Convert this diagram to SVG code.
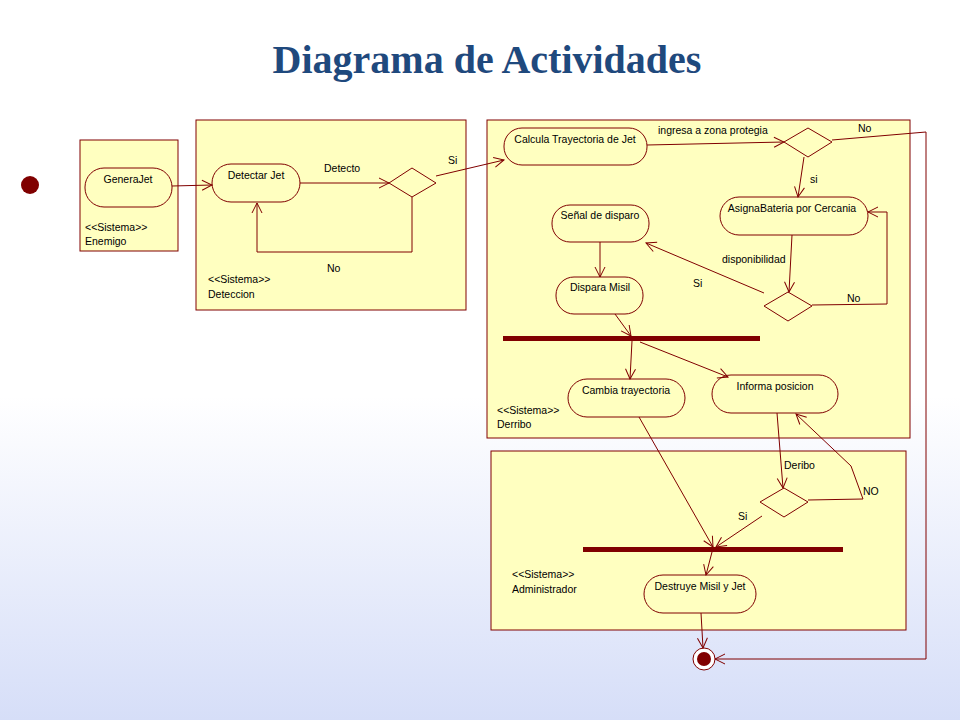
<svg xmlns="http://www.w3.org/2000/svg" width="960" height="720" viewBox="0 0 960 720">
<defs>
<linearGradient id="bg" x1="0" y1="0" x2="0" y2="1">
<stop offset="0" stop-color="#ffffff"/><stop offset="0.55" stop-color="#ffffff"/><stop offset="1" stop-color="#d6def8"/>
</linearGradient>
<marker id="a" viewBox="0 0 12 12" refX="11" refY="6" markerWidth="12" markerHeight="12" markerUnits="userSpaceOnUse" orient="auto">
<path d="M1,1 L11,6 L1,11" fill="none" stroke="#800000" stroke-width="1"/>
</marker>
<style>
.c{fill:#ffffc0;stroke:#800000;stroke-width:1}
.n{fill:#ffffc0;stroke:#800000;stroke-width:1}
.t{font-family:"Liberation Sans",Arial,sans-serif;font-size:10.5px;fill:#000}
.m{text-anchor:middle}
.l{fill:none;stroke:#800000;stroke-width:1;marker-end:url(#a)}
.p{fill:none;stroke:#800000;stroke-width:1}
.f{fill:#800000}
</style>
</defs>
<rect width="960" height="720" fill="url(#bg)"/>
<text x="487" y="73" text-anchor="middle" font-family="Liberation Serif,serif" font-weight="bold" font-size="40" fill="#1f497d">Diagrama de Actividades</text>

<g id="enemigo"><rect class="c" x="80" y="140" width="98" height="111"/><text class="t" x="85" y="231">&lt;&lt;Sistema&gt;&gt;</text><text class="t" x="85" y="245">Enemigo</text></g>
<g id="deteccion"><rect class="c" x="196" y="120" width="270" height="190"/><text class="t" x="208" y="283">&lt;&lt;Sistema&gt;&gt;</text><text class="t" x="208" y="298">Deteccion</text></g>
<g id="derribo"><rect class="c" x="487" y="120" width="423" height="318"/><text class="t" x="497" y="414">&lt;&lt;Sistema&gt;&gt;</text><text class="t" x="497" y="428">Derribo</text></g>
<g id="administrador"><rect class="c" x="491" y="451" width="415" height="179"/><text class="t" x="512" y="578">&lt;&lt;Sistema&gt;&gt;</text><text class="t" x="512" y="593">Administrador</text></g>

<g id="inicio"><circle cx="30" cy="185" r="9" class="f"/></g>
<g id="generajet"><rect class="n" x="85" y="168" width="87" height="39" rx="19"/><text class="t m" x="128" y="183">GeneraJet</text></g>
<g id="detectar"><rect class="n" x="212" y="164" width="88" height="38" rx="19"/><text class="t m" x="256" y="179">Detectar Jet</text></g>
<g id="d1"><polygon class="n" points="389,183 412,168 436,183 412,197"/></g>
<g id="calcula"><rect class="n" x="504" y="128" width="143" height="37" rx="18"/><text class="t m" x="575" y="143">Calcula Trayectoria de Jet</text></g>
<g id="d2"><polygon class="n" points="784,142 808,128 832,142 808,157"/></g>
<g id="asigna"><rect class="n" x="720" y="197" width="148" height="38" rx="19"/><text class="t m" x="792" y="212">AsignaBateria por Cercania</text></g>
<g id="senal"><rect class="n" x="552" y="205" width="97" height="37" rx="18"/><text class="t m" x="600" y="219">Señal de disparo</text></g>
<g id="dispara"><rect class="n" x="556" y="277" width="87" height="37" rx="18"/><text class="t m" x="600" y="291">Dispara Misil</text></g>
<g id="d3"><polygon class="n" points="764,306 788,292 812,306 788,321"/></g>
<g id="fork1"><rect class="f" x="503" y="336" width="257" height="5"/></g>
<g id="cambia"><rect class="n" x="568" y="379" width="117" height="38" rx="19"/><text class="t m" x="626" y="394">Cambia trayectoria</text></g>
<g id="informa"><rect class="n" x="712" y="375" width="126" height="38" rx="19"/><text class="t m" x="775" y="390">Informa posicion</text></g>
<g id="d4"><polygon class="n" points="760,502 784,488 808,502 784,517"/></g>
<g id="fork2"><rect class="f" x="583" y="547" width="260" height="5"/></g>
<g id="destruye"><rect class="n" x="644" y="575" width="112" height="38" rx="19"/><text class="t m" x="700" y="590">Destruye Misil y Jet</text></g>
<g id="fin"><circle cx="704" cy="659" r="11" fill="#fff" stroke="#800000"/><circle cx="704" cy="659" r="7" class="f"/></g>

<g id="conectores">
<path class="l" d="M172,186 L212,185"/>
<path class="l" d="M300,183 L389,183"/>
<path class="l" d="M412,197 L412,252 L257,252 L257,203"/>
<path class="l" d="M436,176 L504,160"/>
<path class="l" d="M647,145 L784,142"/>
<path class="l" d="M832,140 L926,132 L926,659 L715,659"/>
<path class="l" d="M804,157 L798,197"/>
<path class="l" d="M792,235 L789,292"/>
<path class="l" d="M812,305 L887,304 L887,212 L868,212"/>
<path class="l" d="M764,293 L646,243"/>
<path class="l" d="M600,242 L600,277"/>
<path class="l" d="M615,314 L631,336"/>
<path class="l" d="M632,341 L630,379"/>
<path class="l" d="M640,342 L728,377"/>
<path class="l" d="M639,417 L713,547"/>
<path class="l" d="M777,413 L783,488"/>
<path class="l" d="M808,500 L863,499 L851,466 L796,414"/>
<path class="l" d="M762,516 L716,547"/>
<path class="l" d="M712,552 L706,575"/>
<path class="l" d="M701,613 L703,648"/>
<text class="t" x="324" y="172">Detecto</text>
<text class="t" x="327" y="272">No</text>
<text class="t" x="448" y="164">Si</text>
<text class="t" x="658" y="134">ingresa a zona protegia</text>
<text class="t" x="858" y="132">No</text>
<text class="t" x="810" y="183">si</text>
<text class="t" x="722" y="263">disponibilidad</text>
<text class="t" x="847" y="302">No</text>
<text class="t" x="693" y="287">Si</text>
<text class="t" x="784" y="469">Deribo</text>
<text class="t" x="863" y="495">NO</text>
<text class="t" x="738" y="520">Si</text>
</g>
</svg>
